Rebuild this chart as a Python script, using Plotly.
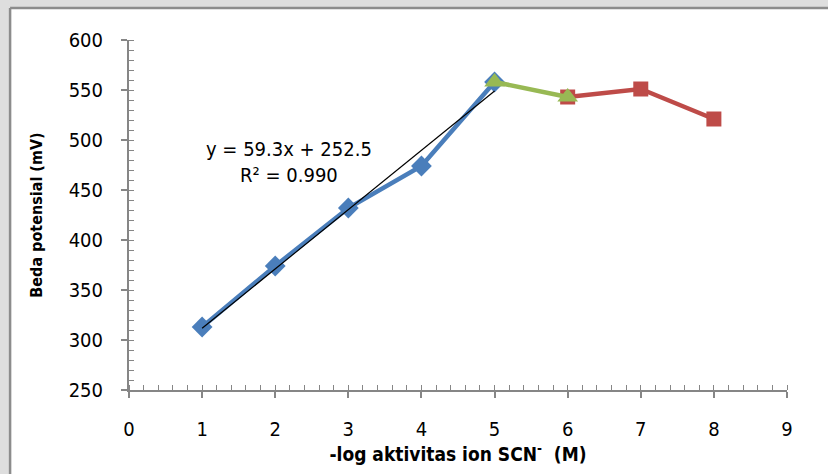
import plotly.graph_objects as go

# Electrode response: potential difference vs -log activity of SCN-
x_linear = [1, 2, 3, 4, 5]
y_linear = [313, 374, 432, 474, 558]

x_bridge = [5, 6]
y_bridge = [558, 543]

x_plateau = [6, 7, 8]
y_plateau = [543, 551, 521]

# Linear regression over the linear range
slope = 59.3
intercept = 252.5
r_squared = 0.990
fit_x = [1, 5]
fit_y = [slope * v + intercept for v in fit_x]

x_ticks = list(range(0, 10))
y_ticks = list(range(250, 601, 50))

BLUE = "#4a7ebb"
GREEN = "#98b954"
RED = "#be4b48"
AXIS = "#868686"
FONT = "DejaVu Sans Condensed, Liberation Sans, sans-serif"

fig = go.Figure()

fig.add_trace(go.Scatter(
    x=x_plateau, y=y_plateau, mode="lines+markers",
    line=dict(color=RED, width=4.5),
    marker=dict(symbol="square", size=15, color=RED),
    showlegend=False,
))
fig.add_trace(go.Scatter(
    x=x_linear, y=y_linear, mode="lines+markers",
    line=dict(color=BLUE, width=4.5),
    marker=dict(symbol="diamond", size=16, color=BLUE),
    showlegend=False,
))
fig.add_trace(go.Scatter(
    x=x_bridge, y=y_bridge, mode="lines+markers",
    line=dict(color=GREEN, width=4.5),
    marker=dict(symbol="triangle-up", size=18, color=GREEN),
    showlegend=False,
))
fig.add_trace(go.Scatter(
    x=fit_x, y=fit_y, mode="lines",
    line=dict(color="black", width=1.2),
    showlegend=False,
))

fig.add_annotation(
    x=2.19, y=478, xref="x", yref="y",
    text=f"y = {slope}x + {intercept}<br>R² = {r_squared:.3f}",
    showarrow=False, align="center",
    font=dict(family=FONT, size=20, color="black"),
    xanchor="center", yanchor="middle",
)

axis_common = dict(
    showgrid=False, zeroline=False, showline=True,
    linecolor=AXIS, linewidth=2,
    ticks="outside", ticklen=6, tickcolor=AXIS, tickwidth=1.5,
    tickfont=dict(family=FONT, size=20, color="black"),
)

fig.update_xaxes(
    range=[0, 9], tickvals=x_ticks, ticktext=[str(v) for v in x_ticks],
    minor=dict(dtick=0.2, ticks="inside", ticklen=5, tickcolor=AXIS, tickwidth=1),
    ticklabelstandoff=14,
    title=dict(text="<b>-log aktivitas ion SCN<sup>-</sup>  (M)</b>",
               font=dict(family=FONT, size=19, color="black"), standoff=4),
    **axis_common,
)
fig.update_yaxes(
    range=[250, 600], tickvals=y_ticks, ticktext=[str(v) for v in y_ticks],
    minor=dict(dtick=10, ticks="inside", ticklen=5, tickcolor=AXIS, tickwidth=1),
    ticklabelstandoff=14,
    title=dict(text="<b>Beda potensial (mV)</b>",
               font=dict(family=FONT, size=16, color="black"), standoff=22),
    **axis_common,
)

# Grey surround along the top and left edges, with the frame line
frame_x = -119 / 658.5
frame_y = 1 + 32 / 350
fig.add_shape(type="rect", xref="paper", yref="paper",
              x0=-0.3, x1=1.2, y0=frame_y, y1=1.3,
              line=dict(width=0), fillcolor="#dedede", layer="below")
fig.add_shape(type="rect", xref="paper", yref="paper",
              x0=-0.3, x1=frame_x, y0=-0.4, y1=1.3,
              line=dict(width=0), fillcolor="#dedede", layer="below")
fig.add_shape(type="line", xref="paper", yref="paper",
              x0=frame_x, x1=1.2, y0=frame_y, y1=frame_y,
              line=dict(color="#8c8c8c", width=2.5), layer="below")
fig.add_shape(type="line", xref="paper", yref="paper",
              x0=frame_x, x1=frame_x, y0=-0.4, y1=frame_y,
              line=dict(color="#8c8c8c", width=2.5), layer="below")

fig.update_layout(
    width=828, height=474,
    margin=dict(l=128.5, r=41, t=40, b=84),
    paper_bgcolor="white", plot_bgcolor="rgba(0,0,0,0)",
)

fig.write_html("out.html")
